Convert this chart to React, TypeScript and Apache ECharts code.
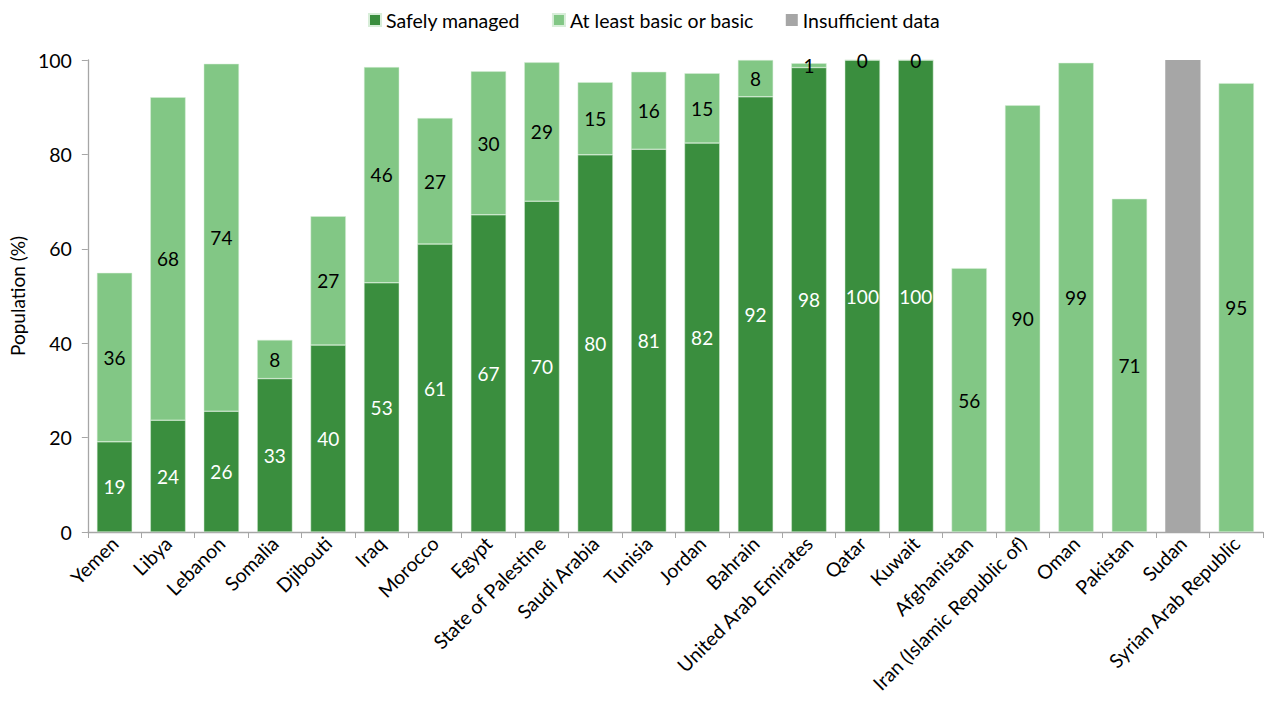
import React, { useEffect, useRef } from "react";
import * as echarts from "echarts";

// Sanitation service levels by country (% of population)
const countries = [
  "Yemen", "Libya", "Lebanon", "Somalia", "Djibouti", "Iraq", "Morocco", "Egypt",
  "State of Palestine", "Saudi Arabia", "Tunisia", "Jordan", "Bahrain",
  "United Arab Emirates", "Qatar", "Kuwait", "Afghanistan",
  "Iran (Islamic Republic of)", "Oman", "Pakistan", "Sudan", "Syrian Arab Republic",
];

const safelyManaged: (number | null)[] = [
  19.1, 23.7, 25.6, 32.5, 39.6, 52.8, 61.0, 67.2, 70.1, 79.9, 81.1, 82.4, 92.2,
  98.4, 100, 100, null, null, null, null, null, null,
];

const basic: (number | null)[] = [
  35.8, 68.4, 73.6, 8.2, 27.3, 45.7, 26.7, 30.4, 29.4, 15.4, 16.4, 14.8, 7.8,
  0.9, 0, 0, 55.9, 90.4, 99.4, 70.6, null, 95.1,
];

const insufficient: (number | null)[] = [
  null, null, null, null, null, null, null, null, null, null, null, null, null,
  null, null, null, null, null, null, null, 100, null,
];

const yTicks = [0, 20, 40, 60, 80, 100];

const DARK = "#3A8E3E";
const LIGHT = "#82C785";
const GREY = "#A6A6A6";
const FONT = "Lato, 'Open Sans', sans-serif";

export default function App() {
  const ref = useRef<HTMLDivElement>(null);

  useEffect(() => {
    if (!ref.current) return;
    const chart = echarts.init(ref.current, null, { renderer: "svg" });
    const fmt = (p: any) =>
      p.value === null || p.value === undefined ? "" : String(Math.round(p.value));

    chart.setOption({
      animation: false,
      textStyle: { fontFamily: FONT },
      legend: {
        top: 5,
        left: 363,
        itemWidth: 12,
        itemHeight: 12,
        itemGap: 32,
        icon: "rect",
        textStyle: { fontSize: 19.5, color: "#000", fontFamily: FONT },
        data: ["Safely managed", "At least basic or basic", "Insufficient data"],
      },
      grid: { left: 72.6, right: 7, top: 60, bottom: 177, containLabel: false },
      xAxis: {
        type: "category",
        data: countries,
        boundaryGap: true,
        axisLine: { lineStyle: { color: "#A6A6A6", width: 1.3 } },
        axisTick: { show: true, alignWithLabel: false, length: 6, lineStyle: { color: "#A6A6A6" } },
        axisLabel: {
          interval: 0,
          rotate: 45,
          fontSize: 19.5,
          color: "#000",
          fontFamily: FONT,
          margin: 8,
        },
      },
      yAxis: {
        type: "value",
        min: 0,
        max: yTicks[yTicks.length - 1],
        interval: 20,
        name: "Population (%)",
        nameLocation: "middle",
        nameGap: 48,
        nameTextStyle: { fontSize: 19, color: "#000", fontFamily: FONT },
        axisLine: { show: true, lineStyle: { color: "#A6A6A6", width: 1.3 } },
        axisTick: { show: true, length: 6, lineStyle: { color: "#A6A6A6" } },
        splitLine: { show: false },
        axisLabel: { fontSize: 19.5, color: "#000", fontFamily: FONT, margin: 16 },
      },
      series: [
        {
          name: "Safely managed",
          type: "bar",
          stack: "total",
          barWidth: "66%",
          data: safelyManaged,
          itemStyle: { color: DARK, borderColor: "#d8eed9", borderWidth: 0.5 },
          label: {
            show: true,
            position: "inside",
            color: "#fff",
            fontSize: 19,
            fontFamily: FONT,
            formatter: fmt,
          },
        },
        {
          name: "At least basic or basic",
          type: "bar",
          stack: "total",
          data: basic,
          itemStyle: { color: LIGHT, borderColor: "#d8eed9", borderWidth: 0.5 },
          label: {
            show: true,
            position: "inside",
            color: "#000",
            fontSize: 19,
            fontFamily: FONT,
            formatter: fmt,
          },
        },
        {
          name: "Insufficient data",
          type: "bar",
          stack: "total",
          data: insufficient,
          itemStyle: { color: GREY },
          label: { show: false },
        },
      ],
    });

    return () => chart.dispose();
  }, []);

  return (
    <div
      ref={ref}
      style={{ position: "fixed", left: 0, top: 0, width: 1270, height: 709, background: "#fff" }}
    />
  );
}
